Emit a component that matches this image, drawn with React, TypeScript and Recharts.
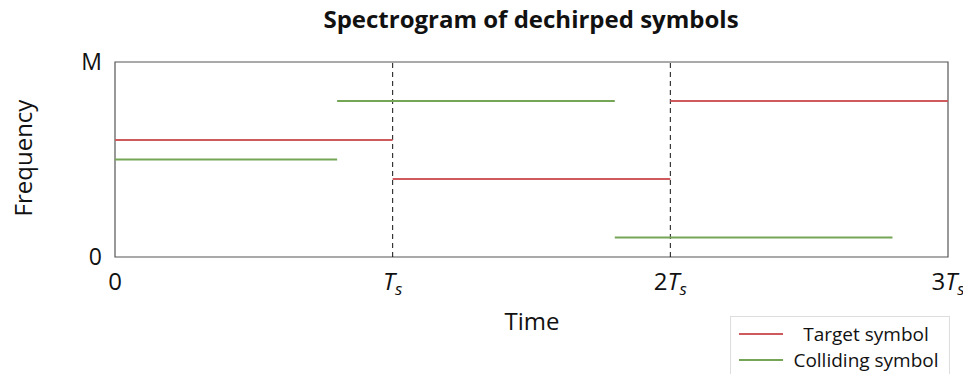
import { LineChart, Line, XAxis, YAxis, ReferenceLine, ReferenceArea } from "recharts";

// Time in units of T_s, frequency normalised to M
const targetStarts = [0, 1, 2];
const targetEnds = [1, 2, 3];
const targetFreqs = [0.6, 0.4, 0.8];

const collidingStarts = [0, 0.8, 1.8];
const collidingEnds = [0.8, 1.8, 2.8];
const collidingFreqs = [0.5, 0.8, 0.1];

const xTicks = [0, 1, 2, 3];
const yTicks = [0, 1];
const yTickLabels = ["0", "M"];
const symbolBoundaries = [1, 2];

const TARGET_COLOR = "#cf5a5e";
const COLLIDING_COLOR = "#74a656";
const FONT = "'Open Sans', 'DejaVu Sans', sans-serif";

function segments(starts: number[], ends: number[], freqs: number[]) {
  return starts.map((s, i) => [
    { t: s, f: freqs[i] },
    { t: ends[i], f: freqs[i] },
  ]);
}

function XTick({ x, y, payload }: any) {
  const n = payload.value;
  if (n === 0) {
    return (
      <text x={x} y={y + 25} textAnchor="middle" fontSize={24} fill="#111" fontFamily={FONT}>
        0
      </text>
    );
  }
  return (
    <text x={x} y={y + 25} textAnchor="middle" fontSize={24} fill="#111" fontFamily={FONT}>
      {n > 1 ? <tspan>{n}</tspan> : null}
      <tspan fontStyle="italic">T</tspan>
      <tspan fontStyle="italic" fontSize={17} dy={5}>s</tspan>
    </text>
  );
}

function YTick({ x, y, payload }: any) {
  const idx = yTicks.indexOf(payload.value);
  return (
    <text x={x - 5} y={y + 8} textAnchor="end" fontSize={23} fill="#111" fontFamily={FONT}>
      {yTickLabels[idx]}
    </text>
  );
}

export default function App() {
  const target = segments(targetStarts, targetEnds, targetFreqs);
  const colliding = segments(collidingStarts, collidingEnds, collidingFreqs);
  return (
    <div style={{ position: "relative", width: 971, height: 382, margin: -8, background: "#fff", fontFamily: FONT }}>
      <div style={{ position: "absolute", top: 2, left: 0, width: 1062, textAlign: "center", fontSize: 24, fontWeight: 700, color: "#111" }}>
        Spectrogram of dechirped symbols
      </div>
      <LineChart width={971} height={382} margin={{ top: 62, right: 23, bottom: 85, left: 0 }}>
        <XAxis
          type="number"
          dataKey="t"
          domain={[0, 3]}
          ticks={xTicks}
          tick={<XTick />}
          tickLine={false}
          axisLine={false}
          height={40}
          allowDataOverflow
        />
        <YAxis
          type="number"
          dataKey="f"
          domain={[0, 1]}
          ticks={yTicks}
          tick={<YTick />}
          tickLine={false}
          axisLine={false}
          width={115}
        />
        <ReferenceArea x1={0} x2={3} y1={0} y2={1} fill="none" stroke="#555" strokeWidth={1.2} ifOverflow="visible" />
        {symbolBoundaries.map((b) => (
          <ReferenceLine key={b} x={b} stroke="#111" strokeDasharray="5 4" strokeWidth={1} />
        ))}
        {target.map((d, i) => (
          <Line key={"t" + i} data={d} dataKey="f" stroke={TARGET_COLOR} strokeWidth={2} dot={false} isAnimationActive={false} />
        ))}
        {colliding.map((d, i) => (
          <Line key={"c" + i} data={d} dataKey="f" stroke={COLLIDING_COLOR} strokeWidth={2} dot={false} isAnimationActive={false} />
        ))}
      </LineChart>
      <div style={{ position: "absolute", left: 22, top: 158, transform: "translate(-50%, -50%) rotate(-90deg)", fontSize: 24, color: "#111", whiteSpace: "nowrap" }}>
        Frequency
      </div>
      <div style={{ position: "absolute", top: 304, left: 432, width: 200, textAlign: "center", fontSize: 24, color: "#111" }}>
        Time
      </div>
      <div style={{ position: "absolute", left: 730, top: 316, width: 220, height: 70, border: "1px solid #ddd", boxSizing: "border-box", fontSize: 19, color: "#111" }}>
        <div style={{ display: "flex", alignItems: "center", height: 26, marginTop: 4 }}>
          <div style={{ width: 44, height: 2, background: TARGET_COLOR, marginLeft: 8 }} />
          <div style={{ flex: 1, textAlign: "center" }}>Target symbol</div>
        </div>
        <div style={{ display: "flex", alignItems: "center", height: 26 }}>
          <div style={{ width: 44, height: 2, background: COLLIDING_COLOR, marginLeft: 8 }} />
          <div style={{ flex: 1, textAlign: "center" }}>Colliding symbol</div>
        </div>
      </div>
    </div>
  );
}
